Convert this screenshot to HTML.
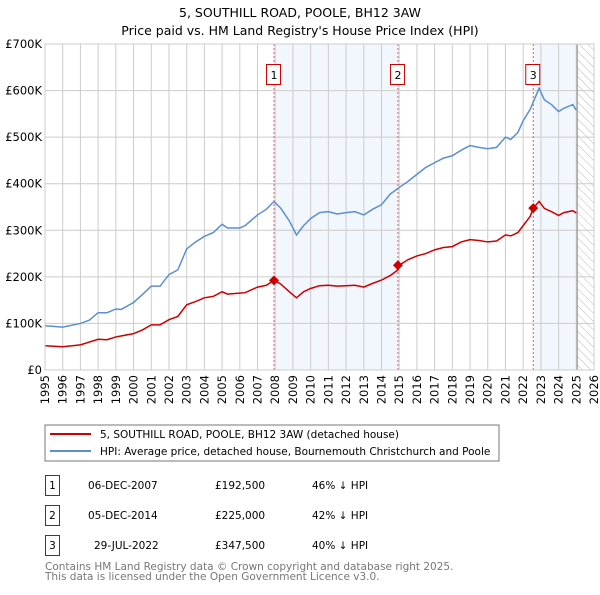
<!DOCTYPE html>
<html><head><meta charset="utf-8"><style>
body{margin:0;background:#fff;}
svg text{font-family:"DejaVu Sans","Liberation Sans",sans-serif;}
</style></head><body>
<svg id="c" width="600" height="590" xmlns="http://www.w3.org/2000/svg">
<defs><pattern id="hatch" width="6" height="6" patternUnits="userSpaceOnUse" patternTransform="rotate(-45)"><line x1="0" y1="0" x2="0" y2="6" stroke="#bbb" stroke-width="1"/></pattern></defs>
<text x="300" y="17" text-anchor="middle" font-size="12.5">5, SOUTHILL ROAD, POOLE, BH12 3AW</text>
<text x="300" y="35" text-anchor="middle" font-size="12.5">Price paid vs. HM Land Registry's House Price Index (HPI)</text>
<g id="plot"></g>
<rect x="45" y="425" width="454" height="36" fill="#fff" stroke="#777"/>
<line x1="50" y1="434" x2="91" y2="434" stroke="#cc0000" stroke-width="2"/>
<text x="100" y="438" font-size="10.5">5, SOUTHILL ROAD, POOLE, BH12 3AW (detached house)</text>
<line x1="50" y1="451" x2="91" y2="451" stroke="#5b8fd1" stroke-width="2"/>
<text x="100" y="455" font-size="10.5">HPI: Average price, detached house, Bournemouth Christchurch and Poole</text>
<g font-size="10.5">
<rect x="45.5" y="475.5" width="14" height="20" fill="none" stroke="#cc0000"/><text x="52.5" y="489" text-anchor="middle">1</text>
<text x="88" y="489">06-DEC-2007</text><text x="215" y="489">£192,500</text><text x="312" y="489">46% ↓ HPI</text>
<rect x="45.5" y="505.5" width="14" height="20" fill="none" stroke="#cc0000"/><text x="52.5" y="519" text-anchor="middle">2</text>
<text x="88" y="519">05-DEC-2014</text><text x="215" y="519">£225,000</text><text x="312" y="519">42% ↓ HPI</text>
<rect x="45.5" y="535.5" width="14" height="20" fill="none" stroke="#cc0000"/><text x="52.5" y="549" text-anchor="middle">3</text>
<text x="94" y="549">29-JUL-2022</text><text x="215" y="549">£347,500</text><text x="312" y="549">40% ↓ HPI</text>
</g>
<text x="45" y="570" font-size="10.5" fill="#777">Contains HM Land Registry data © Crown copyright and database right 2025.</text>
<text x="45" y="580" font-size="10.5" fill="#777">This data is licensed under the Open Government Licence v3.0.</text>
</svg>
<script>
const hpiYears=[1995,1996,1997,1997.5,1998,1998.5,1999,1999.3,2000,2000.5,2001,2001.5,2002,2002.5,2003,2003.5,2004,2004.5,2005,2005.3,2006,2006.3,2007,2007.5,2007.93,2008.3,2008.8,2009.2,2009.6,2010,2010.5,2011,2011.5,2012,2012.5,2013,2013.5,2014,2014.5,2015,2015.5,2016,2016.5,2017,2017.5,2018,2018.5,2019,2019.5,2020,2020.5,2021,2021.3,2021.7,2022,2022.4,2022.9,2023.2,2023.6,2024,2024.3,2024.8,2025];
const hpiValues=[95,92,100,107,123,123,131,130,145,162,180,180,205,215,260,275,287,295,313,305,305,310,333,345,362,348,320,290,310,325,338,340,335,338,340,333,345,355,378,392,405,420,435,445,455,460,472,482,478,475,478,500,495,510,535,560,605,580,570,555,562,570,558];
const priceYears=[1995,1996,1997,1998,1998.5,1999,2000,2000.5,2001,2001.5,2002,2002.5,2003,2003.5,2004,2004.5,2005,2005.3,2006,2006.3,2007,2007.5,2007.93,2008.3,2008.8,2009.2,2009.6,2010,2010.5,2011,2011.5,2012,2012.5,2013,2013.5,2014,2014.5,2014.93,2015,2015.5,2016,2016.5,2017,2017.5,2018,2018.5,2019,2019.5,2020,2020.5,2021,2021.3,2021.7,2022,2022.4,2022.57,2022.9,2023.2,2023.6,2024,2024.3,2024.8,2025];
const priceValues=[52,50,54,66,65,71,78,86,97,97,108,115,140,147,155,158,168,163,165,166,178,182,192.5,185,168,155,168,175,181,182,180,181,182,178,186,193,203,215,225,237,245,250,258,263,265,275,280,278,275,277,290,288,295,310,330,347.5,362,347,340,332,338,342,337];
const saleYears=[2007.93,2014.93,2022.57];
const saleValues=[192.5,225,347.5];
const saleLabels=["1","2","3"];
const yTicks=[0,100,200,300,400,500,600,700];
const yTickLabels=["£0","£100K","£200K","£300K","£400K","£500K","£600K","£700K"];
const xTicks=[1995,1996,1997,1998,1999,2000,2001,2002,2003,2004,2005,2006,2007,2008,2009,2010,2011,2012,2013,2014,2015,2016,2017,2018,2019,2020,2021,2022,2023,2024,2025,2026];
const L=45,R=594,T=44,B=370;
const x=v=>L+(v-1995)*(R-L)/31;
const y=v=>B-v*(B-T)/700;
const NS="http://www.w3.org/2000/svg";
const g=document.getElementById('plot');
function mk(tag,attrs){const e=document.createElementNS(NS,tag);for(const k in attrs)e.setAttribute(k,attrs[k]);g.appendChild(e);return e;}
let e;
e=mk('rect',{x:x(2007.93),y:T,width:x(2014.93)-x(2007.93),height:B-T,fill:'#f2f6fd'});


e=mk('rect',{x:x(2022.57),y:T,width:x(2025.05)-x(2022.57),height:B-T,fill:'#f2f6fd'});


e=mk('rect',{x:x(2025.05),y:T,width:R-x(2025.05),height:B-T,fill:'url(#hatch)'});


xTicks.forEach(t=>{
 e=mk('line',{x1:x(t),y1:T,x2:x(t),y2:B,stroke:'#ccc'});
 
 
 e=mk('text',{x:0,y:0,'font-size':11.5,'text-anchor':'end',transform:`translate(${x(t)+4},${B+5}) rotate(-90)`});
 e.textContent=t;
 
 
});
yTicks.forEach((t,i)=>{
 e=mk('line',{x1:L,y1:y(t),x2:R,y2:y(t),stroke:'#ccc'});
 
 
 e=mk('text',{x:L-3,y:y(t)+4,'font-size':11.5,'text-anchor':'end'});
 e.textContent=yTickLabels[i];
 
 
});
e=mk('line',{x1:x(2025.05),y1:T,x2:x(2025.05),y2:B,stroke:'#888','stroke-width':1});


saleYears.forEach((s,i)=>{
 e=mk('line',{x1:x(s),y1:T,x2:x(s),y2:B,stroke:'#ee5555','stroke-dasharray':'2,2'});
 
 
});
e=mk('polyline',{points:hpiYears.map((t,i)=>x(t)+','+y(hpiValues[i])).join(' '),fill:'none',stroke:'#5b8fd1','stroke-width':1.5});


e=mk('polyline',{points:priceYears.map((t,i)=>x(t)+','+y(priceValues[i])).join(' '),fill:'none',stroke:'#cc0000','stroke-width':1.5});


saleYears.forEach((s,i)=>{
 const cx=x(s),cy=y(saleValues[i]);
 e=mk('polygon',{points:`${cx},${cy-5} ${cx+5},${cy} ${cx},${cy+5} ${cx-5},${cy}`,fill:'#cc0000'});
 
 
 e=mk('rect',{x:cx-7.5,y:64.5,width:14,height:20,fill:'#fff',stroke:'#cc0000'});
 
 
 e=mk('text',{x:cx,y:79,'font-size':11,'text-anchor':'middle'});
 e.textContent=saleLabels[i];
 
 
});
e=mk('rect',{x:L,y:T,width:R-L,height:B-T,fill:'none',stroke:'#ccc'});


</script>
</body></html>
